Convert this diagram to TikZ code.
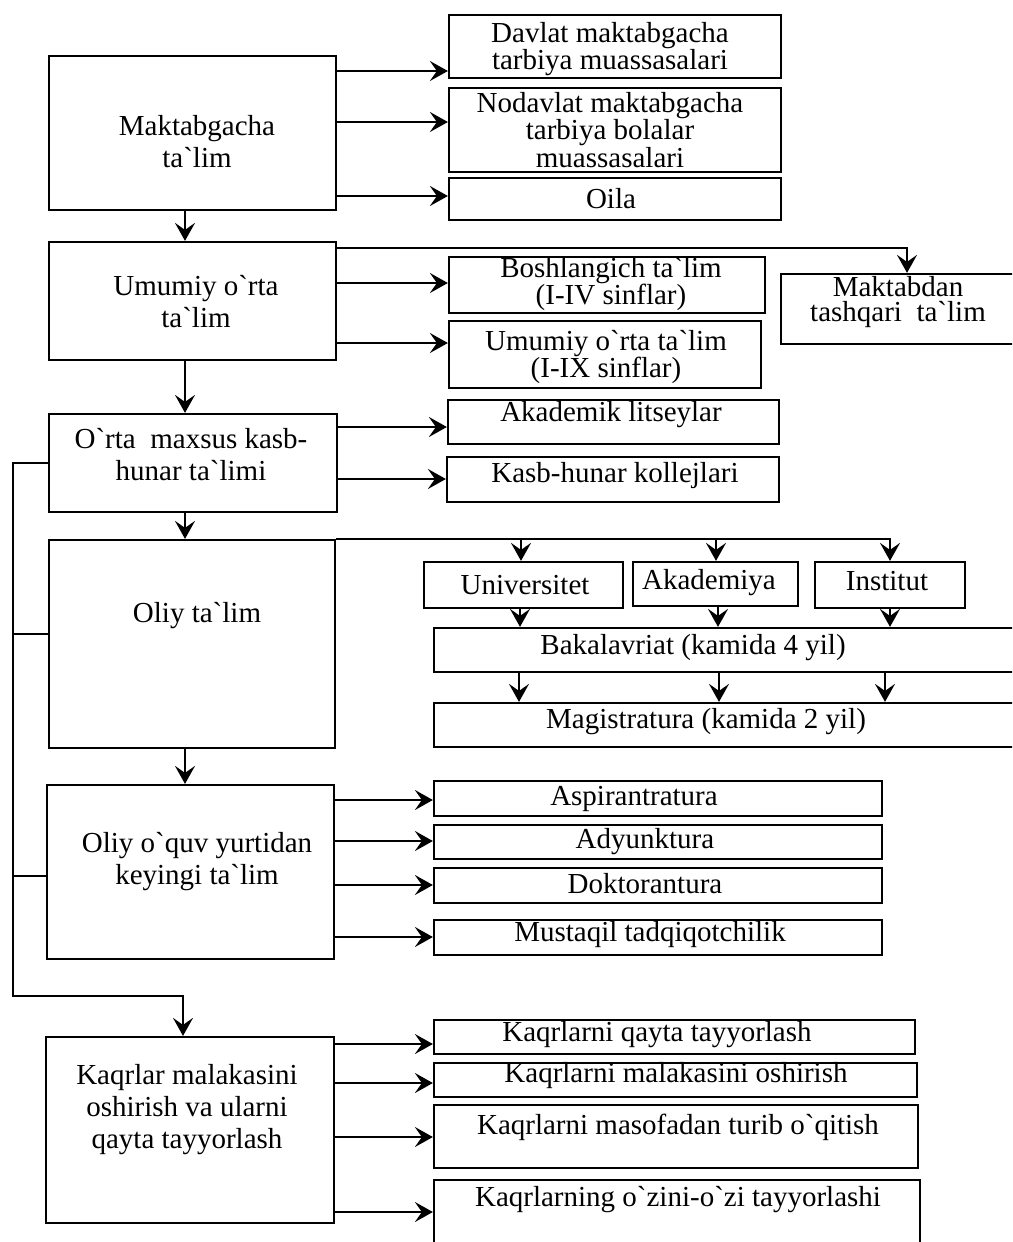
\documentclass[tikz,border=0pt]{standalone}
\usepackage{fontspec}
\setmainfont{Liberation Serif}[Ligatures=TeXOff]
\usetikzlibrary{arrows.meta,fit}
\begin{document}
\begin{tikzpicture}[x=1pt,y=-1pt,
  bx/.style={draw,line width=2.2pt,inner sep=0pt,fit={#1}},
  lt/.style={font=\fontsize{29}{32}\selectfont,align=center,inner sep=0pt},
  rt/.style={font=\fontsize{29}{24.5}\selectfont,align=center,inner sep=0pt},
  ln/.style={line width=2.2pt},
  arr/.style={line width=2.2pt,-{Stealth[length=18pt,width=20pt,inset=7pt]}}]
\useasboundingbox (0,0) rectangle (1012,1242);
\clip (0,0) rectangle (1012,1242);
% left column
\node[bx={(49,56)(336,210)}] (mak) {};
\node[lt] (makt) at (197,142) {Maktabgacha\\ta`lim};
\node[bx={(49,242)(336,360)}] (umu) {};
\node[lt] (umut) at (196,302) {Umumiy o`rta\\ta`lim};
\node[bx={(49,414)(337,512)}] (orta) {};
\node[lt] (ortat) at (191,455) {O`rta~ maxsus kasb-\\hunar ta`limi};
\node[bx={(49,540)(335,748)}] (oliy) {};
\node[lt] (oliyt) at (197,616) {Oliy ta`lim};
\node[bx={(47,785)(334,959)}] (oq) {};
\node[lt] (oqt) at (197,862) {Oliy o`quv yurtidan\\keyingi ta`lim};
\node[bx={(46,1037)(334,1223)}] (kad) {};
\node[lt] (kadt) at (187,1110) {Kaqrlar malakasini\\oshirish va ularni\\qayta tayyorlash};
% right column
\node[bx={(449,15)(781,78)}] (dav) {};
\node[rt] (davt) at (610,49) {Davlat maktabgacha\\tarbiya muassasalari};
\node[bx={(449,88)(781,172)}] (nod) {};
\node[rt] (nodt) at (610,130) {Nodavlat maktabgacha\\tarbiya bolalar\\muassasalari};
\node[bx={(449,178)(781,220)}] (oila) {};
\node[rt] (oilat) at (611,199) {Oila};
\node[bx={(449,257)(765,313)}] (bosh) {};
\node[rt] (bosht) at (611,284) {Boshlangich ta`lim\\(I-IV sinflar)};
\node[bx={(449,321)(761,388)}] (umo) {};
\node[rt] (umot) at (606,357) {Umumiy o`rta ta`lim\\(I-IX sinflar)};
\node[bx={(781,274)(1040,344)}] (mkt) {};
\node[rt] (mktt) at (898,302) {Maktabdan\\tashqari~ ta`lim};
\node[bx={(448,400)(779,444)}] (akl) {};
\node[rt] (aklt) at (611,415) {Akademik litseylar};
\node[bx={(447,457)(779,502)}] (kol) {};
\node[rt] (kolt) at (615,476) {Kasb-hunar kollejlari};
\node[bx={(424,562)(623,608)}] (uni) {};
\node[rt] (unit) at (525,585) {Universitet};
\node[bx={(633,562)(798,606)}] (aka) {};
\node[rt] (akat) at (709,583) {Akademiya};
\node[bx={(815,562)(965,608)}] (ins) {};
\node[rt] (inst) at (887,581) {Institut};
\node[bx={(434,628)(1040,672)}] (bak) {};
\node[rt] (bakt) at (693,648) {Bakalavriat (kamida 4 yil)};
\node[bx={(434,703)(1040,747)}] (mag) {};
\node[rt] (magt) at (706,722) {Magistratura (kamida 2 yil)};
\node[bx={(434,781)(882,816)}] (asp) {};
\node[rt] (aspt) at (634,799) {Aspirantratura};
\node[bx={(434,825)(882,859)}] (ady) {};
\node[rt] (adyt) at (645,842) {Adyunktura};
\node[bx={(434,868)(882,903)}] (dok) {};
\node[rt] (dokt) at (645,884) {Doktorantura};
\node[bx={(434,920)(882,955)}] (mus) {};
\node[rt] (must) at (650,935) {Mustaqil tadqiqotchilik};
\node[bx={(434,1020)(915,1054)}] (kq1) {};
\node[rt] (kq1t) at (657,1035) {Kaqrlarni qayta tayyorlash};
\node[bx={(434,1063)(917,1097)}] (kq2) {};
\node[rt] (kq2t) at (676,1076) {Kaqrlarni malakasini oshirish};
\node[bx={(434,1105)(918,1168)}] (kq3) {};
\node[rt] (kq3t) at (678,1127) {Kaqrlarni masofadan turib o`qitish};
\node[bx={(434,1180)(920,1270)}] (kq4) {};
\node[rt] (kq4t) at (678,1200) {Kaqrlarning o`zini-o`zi tayyorlashi};
% spine
\draw[arr] (mak.south -| 185,0) -- (umu.north -| 185,0);
\draw[arr] (umu.south -| 185,0) -- (orta.north -| 185,0);
\draw[arr] (orta.south -| 185,0) -- (oliy.north -| 185,0);
\draw[arr] (oliy.south -| 185,0) -- (oq.north -| 185,0);
% maktabgacha
\draw[arr] (mak.east |- 0,71) -- (dav.west |- 0,71);
\draw[arr] (mak.east |- 0,122) -- (nod.west |- 0,122);
\draw[arr] (mak.east |- 0,196) -- (oila.west |- 0,196);
% umumiy
\draw[arr] (umu.east |- 0,248) -| (mkt.north -| 907,0);
\draw[arr] (umu.east |- 0,283) -- (bosh.west |- 0,283);
\draw[arr] (umu.east |- 0,343) -- (umo.west |- 0,343);
% orta maxsus
\draw[arr] (orta.east |- 0,427) -- (akl.west |- 0,427);
\draw[arr] (orta.east |- 0,479) -- (kol.west |- 0,479);
% oliy
\draw[arr] (oliy.north east -| 521,0) -- (uni.north -| 521,0);
\draw[arr] (oliy.north east -| 716,0) -- (aka.north -| 716,0);
\draw[arr] (oliy.north east) -| (ins.north -| 890,0);
\draw[arr] (uni.south -| 520,0) -- (bak.north -| 520,0);
\draw[arr] (aka.south -| 718,0) -- (bak.north -| 718,0);
\draw[arr] (ins.south -| 890,0) -- (bak.north -| 890,0);
\draw[arr] (bak.south -| 519,0) -- (mag.north -| 519,0);
\draw[arr] (bak.south -| 719,0) -- (mag.north -| 719,0);
\draw[arr] (bak.south -| 885,0) -- (mag.north -| 885,0);
% oliy o'quv
\draw[arr] (oq.east |- 0,800) -- (asp.west |- 0,800);
\draw[arr] (oq.east |- 0,841) -- (ady.west |- 0,841);
\draw[arr] (oq.east |- 0,885) -- (dok.west |- 0,885);
\draw[arr] (oq.east |- 0,937) -- (mus.west |- 0,937);
% kadrlar
\draw[arr] (kad.east |- 0,1044) -- (kq1.west |- 0,1044);
\draw[arr] (kad.east |- 0,1083) -- (kq2.west |- 0,1083);
\draw[arr] (kad.east |- 0,1137) -- (kq3.west |- 0,1137);
\draw[arr] (kad.east |- 0,1212) -- (kq4.west |- 0,1212);
% left bus
\coordinate (b1) at (13,463);
\coordinate (b2) at (13,996);
\draw[arr] (orta.west |- b1) -- (b1) -- (b2) -| (kad.north -| 183,0);
\draw[ln] (b1 |- 0,634) -- (oliy.west |- 0,634);
\draw[ln] (b1 |- 0,876) -- (oq.west |- 0,876);
\end{tikzpicture}
\end{document}
